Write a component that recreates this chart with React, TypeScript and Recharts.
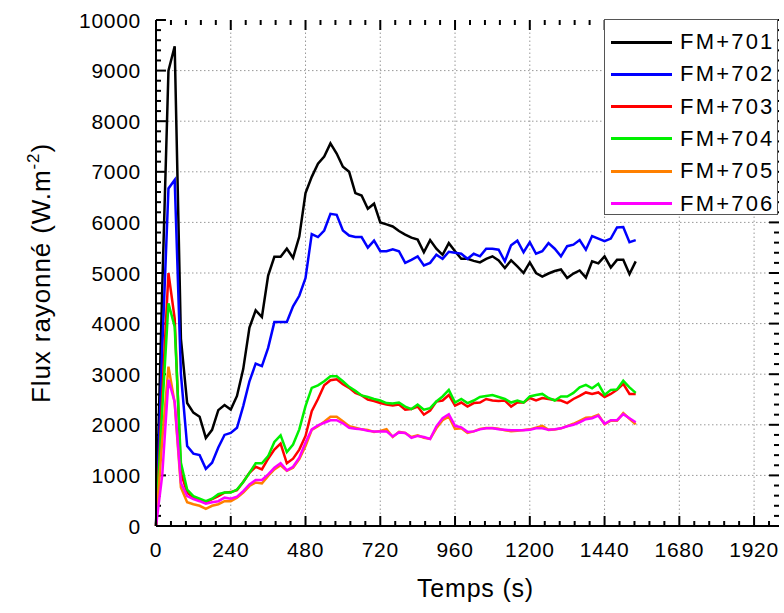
import React from 'react';
import { LineChart, Line, XAxis, YAxis, ReferenceLine, Label } from 'recharts';

const times = [
  0, 20, 40, 60, 80, 100, 120, 140, 160, 180, 200, 220, 240, 260, 280, 300, 320, 340, 360, 380,
  400, 420, 440, 460, 480, 500, 520, 540, 560, 580, 600, 620, 640, 660, 680, 700, 720, 740, 760, 780,
  800, 820, 840, 860, 880, 900, 920, 940, 960, 980, 1000, 1020, 1040, 1060, 1080, 1100, 1120, 1140, 1160, 1180,
  1200, 1220, 1240, 1260, 1280, 1300, 1320, 1340, 1360, 1380, 1400, 1420, 1440, 1460, 1480, 1500, 1520, 1540,
];

const fm701 = [
  0, 4700, 9000, 9480, 3700, 2430, 2240, 2160, 1740, 1900, 2290, 2390, 2300, 2570, 3100, 3920, 4260, 4130, 4950, 5320,
  5320, 5480, 5300, 5720, 6580, 6900, 7160, 7300, 7560, 7360, 7100, 7000, 6580, 6530, 6270, 6370, 6000, 5960, 5920, 5830,
  5760, 5700, 5660, 5410, 5650, 5480, 5360, 5590, 5430, 5280, 5280, 5240, 5210, 5280, 5330, 5250, 5100, 5250, 5130, 5000,
  5210, 5000, 4930, 4990, 5040, 5070, 4900, 4990, 5050, 4910, 5230, 5190, 5330, 5110, 5260, 5260, 4980, 5230,
];

const fm702 = [
  0, 3500, 6670, 6840, 3000, 1580, 1430, 1400, 1130, 1250, 1550, 1800, 1840, 1940, 2370, 2860, 3210, 3160, 3520, 4030,
  4030, 4030, 4340, 4550, 4900, 5770, 5710, 5840, 6170, 6150, 5840, 5740, 5710, 5710, 5500, 5640, 5430, 5430, 5470, 5430,
  5200, 5260, 5330, 5150, 5200, 5360, 5280, 5420, 5400, 5380, 5280, 5380, 5330, 5480, 5480, 5460, 5230, 5550, 5640, 5410,
  5610, 5380, 5430, 5590, 5480, 5330, 5530, 5560, 5650, 5460, 5730, 5680, 5630, 5680, 5900, 5910, 5610, 5650,
];

const fm703 = [
  0, 2600, 5000, 4100, 1050, 660, 560, 510, 470, 530, 590, 660, 670, 710, 870, 1050, 1170, 1120, 1330, 1510,
  1630, 1240, 1330, 1510, 1780, 2270, 2510, 2780, 2880, 2900, 2800, 2730, 2630, 2580, 2500, 2470, 2430, 2400, 2380, 2400,
  2300, 2310, 2360, 2200, 2280, 2460, 2480, 2590, 2380, 2440, 2360, 2430, 2440, 2510, 2480, 2470, 2480, 2360, 2440, 2440,
  2530, 2480, 2530, 2510, 2490, 2480, 2430, 2510, 2570, 2640, 2610, 2640, 2550, 2610, 2690, 2810, 2610, 2610,
];

const fm704 = [
  0, 2300, 4400, 3940, 1250, 720, 590, 540, 490, 540, 630, 660, 660, 720, 870, 1050, 1240, 1240, 1380, 1660,
  1790, 1460, 1610, 1910, 2370, 2730, 2780, 2860, 2960, 2960, 2860, 2750, 2670, 2580, 2550, 2510, 2480, 2430, 2420, 2440,
  2360, 2310, 2400, 2300, 2330, 2460, 2560, 2690, 2440, 2510, 2430, 2480, 2550, 2570, 2590, 2550, 2510, 2440, 2480, 2440,
  2560, 2590, 2610, 2530, 2480, 2560, 2560, 2630, 2740, 2790, 2720, 2810, 2590, 2690, 2700, 2870, 2740, 2630,
];

const fm705 = [
  0, 1700, 3150, 2430, 760, 470, 430, 400, 340, 400, 430, 490, 490, 560, 660, 790, 860, 840, 990, 1120,
  1200, 1090, 1150, 1320, 1580, 1900, 1970, 2060, 2160, 2160, 2070, 1970, 1940, 1910, 1900, 1860, 1880, 1915, 1760, 1860,
  1840, 1760, 1790, 1745, 1720, 1930, 2090, 2160, 1920, 1930, 1840, 1870, 1920, 1935, 1935, 1920, 1890, 1875, 1880, 1895,
  1910, 1945, 1980, 1900, 1905, 1930, 1975, 2020, 2080, 2140, 2150, 2200, 2010, 2080, 2080, 2230, 2120, 2010,
];

const fm706 = [
  0, 1000, 2890, 2450, 850, 590, 530, 490, 440, 470, 490, 560, 540, 580, 690, 820, 910, 910, 1020, 1150,
  1240, 1100, 1170, 1350, 1650, 1910, 1990, 2040, 2090, 2090, 2030, 1940, 1920, 1910, 1880, 1870, 1870, 1870, 1770, 1850,
  1840, 1740, 1780, 1760, 1720, 1970, 2130, 2210, 1980, 1950, 1860, 1870, 1910, 1930, 1930, 1910, 1900, 1890, 1890, 1890,
  1900, 1930, 1930, 1900, 1910, 1930, 1970, 2000, 2050, 2110, 2130, 2180, 2020, 2090, 2090, 2210, 2130, 2050,
];

const seriesNames = ['FM+701', 'FM+702', 'FM+703', 'FM+704', 'FM+705', 'FM+706'];
const seriesColors = ['#000000', '#0000ff', '#ff0000', '#00f000', '#ff8000', '#ff00ff'];
const seriesValues = [fm701, fm702, fm703, fm704, fm705, fm706];

const X_MAX = 2000;
const Y_MAX = 10000;
const xMajorTicks = [0, 240, 480, 720, 960, 1200, 1440, 1680, 1920];
const yMajorTicks = [0, 1000, 2000, 3000, 4000, 5000, 6000, 7000, 8000, 9000, 10000];
const xMinorTicks = Array.from({ length: 42 }, (_, i) => i * 48);
const yMinorTicks = Array.from({ length: 51 }, (_, i) => i * 200);

const data = times.map((t, i) => {
  const row: Record<string, number> = { t };
  seriesNames.forEach((name, k) => {
    row[name] = seriesValues[k][i];
  });
  return row;
});

const FONT = '"Liberation Sans", Arial, sans-serif';

// tick lengths in data units (about 10px major / 5px minor on this plot)
const X_LEN = { major: 32, minor: 16 };
const Y_LEN = { major: 198, minor: 99 };

const tickSegments = [
  ...xMinorTicks.flatMap((v) => {
    const l = xMajorTicks.includes(v) ? Y_LEN.major : Y_LEN.minor;
    return [
      [{ x: v, y: 0 }, { x: v, y: l }],
      [{ x: v, y: Y_MAX }, { x: v, y: Y_MAX - l }],
    ];
  }),
  ...yMinorTicks.flatMap((v) => {
    const l = yMajorTicks.includes(v) ? X_LEN.major : X_LEN.minor;
    return [
      [{ x: 0, y: v }, { x: l, y: v }],
      [{ x: X_MAX, y: v }, { x: X_MAX - l, y: v }],
    ];
  }),
];

const BottomTick = (props: any) => {
  const { x, y, payload } = props;
  return (
    <text x={x} y={y + 31} textAnchor="middle" fontSize={21} letterSpacing={0.7} fontFamily={FONT} fill="#000">
      {payload.value}
    </text>
  );
};

const LeftTick = (props: any) => {
  const { x, y, payload } = props;
  return (
    <text x={x - 15} y={y + 7.5} textAnchor="end" fontSize={21} letterSpacing={0.7} fontFamily={FONT} fill="#000">
      {payload.value}
    </text>
  );
};

const YTitle = (props: any) => {
  const { viewBox } = props;
  const cx = viewBox.x - 6;
  const cy = viewBox.y + viewBox.height / 2;
  return (
    <text
      x={cx}
      y={cy}
      transform={`rotate(-90, ${cx}, ${cy})`}
      textAnchor="middle"
      fontSize={26}
      letterSpacing={0.9}
      fontFamily={FONT}
      fill="#000"
    >
      Flux rayonné (W.m
      <tspan dy={-11} fontSize={17}>-2</tspan>
      <tspan dy={11}>)</tspan>
    </text>
  );
};

const XTitle = (props: any) => {
  const { viewBox } = props;
  const cx = viewBox.x + viewBox.width / 2 + 8;
  return (
    <text x={cx} y={viewBox.y + 71} textAnchor="middle" fontSize={25} letterSpacing={0.8} fontFamily={FONT} fill="#000">
      Temps (s)
    </text>
  );
};

const LegendBox = () => (
  <div
    style={{
      position: 'absolute',
      left: 604,
      top: 19,
      width: 174,
      height: 196,
      border: '1px solid #555',
      background: '#fff',
      boxSizing: 'border-box',
      fontFamily: FONT,
    }}
  >
    {seriesNames.map((name, k) => (
      <div
        key={name}
        style={{ position: 'absolute', left: 0, top: 6 + k * 32.3, height: 32, display: 'flex', alignItems: 'center' }}
      >
        <div style={{ marginLeft: 6, width: 61, height: 3, background: seriesColors[k] }} />
        <span style={{ marginLeft: 8, fontSize: 22, letterSpacing: 2.2, color: '#000', lineHeight: '32px' }}>{name}</span>
      </div>
    ))}
  </div>
);

const frame = { stroke: '#000', strokeWidth: 2 };

export default function App() {
  return (
    <div style={{ position: 'absolute', left: 0, top: 0, width: 784, height: 613, background: '#fff' }}>
      <LineChart width={784} height={613} data={data} margin={{ top: 20, right: 5, left: 56, bottom: 47 }}>
        {xMajorTicks.slice(1).map((v) => (
          <ReferenceLine key={`gx${v}`} x={v} stroke="#999" strokeDasharray="1.5 2.5" strokeWidth={1} />
        ))}
        {yMajorTicks.slice(1, -1).map((v) => (
          <ReferenceLine key={`gy${v}`} y={v} stroke="#999" strokeDasharray="1.5 2.5" strokeWidth={1} />
        ))}
        <XAxis
          dataKey="t"
          type="number"
          domain={[0, X_MAX]}
          ticks={xMajorTicks}
          interval={0}
          height={40}
          tickSize={0}
          tickMargin={0}
          tickLine={false}
          tick={<BottomTick />}
          axisLine={frame}
        >
          <Label content={<XTitle />} />
        </XAxis>
        <XAxis xAxisId="top" orientation="top" type="number" domain={[0, X_MAX]} height={0} tick={false} tickLine={false} axisLine={frame} />
        <YAxis
          type="number"
          domain={[0, Y_MAX]}
          ticks={yMajorTicks}
          interval={0}
          width={100}
          tickSize={0}
          tickMargin={0}
          tickLine={false}
          tick={<LeftTick />}
          axisLine={frame}
        >
          <Label content={<YTitle />} />
        </YAxis>
        <YAxis yAxisId="right" orientation="right" type="number" domain={[0, Y_MAX]} width={0} tick={false} tickLine={false} axisLine={frame} />
        {tickSegments.map((seg, i) => (
          <ReferenceLine key={`tk${i}`} segment={seg} stroke="#000" strokeWidth={2} />
        ))}
        {seriesNames.map((name, k) => (
          <Line
            key={name}
            type="linear"
            dataKey={name}
            stroke={seriesColors[k]}
            strokeWidth={2.5}
            dot={false}
            isAnimationActive={false}
          />
        ))}
      </LineChart>
      <LegendBox />
    </div>
  );
}
